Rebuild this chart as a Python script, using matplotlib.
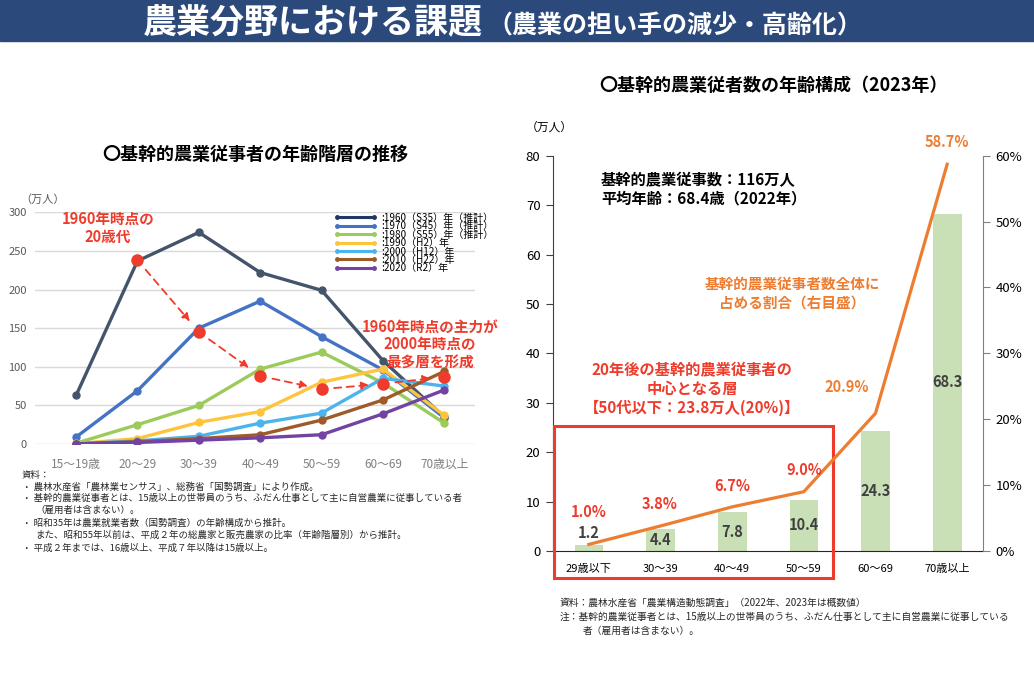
import matplotlib
matplotlib.use('Agg')
import matplotlib.pyplot as plt
from matplotlib.lines import Line2D
from matplotlib.patches import Rectangle

plt.rcParams['font.family'] = ['Noto Sans CJK JP', 'DejaVu Sans']

W, H = 1034, 675

# ---- left chart data (万人) ----
age_groups = ['15～19歳', '20～29', '30～39', '40～49', '50～59', '60～69', '70歳以上']
series_labels = [':1960（S35）年（推計）', ':1970（S45）年（推計）', ':1980（S55）年（推計）',
                 ':1990（H2）年', ':2000（H12）年', ':2010（H22）年', ':2020（R2）年']
y1960 = [63, 237, 274, 222, 199, 108, 35]
y1970 = [9, 69, 150, 185, 139, 96, 34]
y1980 = [1, 25, 50, 97, 119, 79, 27]
y1990 = [0.5, 7, 28, 42, 80, 97, 37]
y2000 = [0.3, 4, 10, 27, 40, 85, 75]
y2010 = [0.2, 3, 7, 12, 31, 57, 94]
y2020 = [0.1, 2, 5, 8, 12, 39, 70]
cohort_1960 = [238, 145, 88, 71, 78, 87]   # 1960年に20歳代だった層 (20～29 以降)

# ---- right chart data (2023年) ----
age_groups_2023 = ['29歳以下', '30～39', '40～49', '50～59', '60～69', '70歳以上']
workers_2023 = [1.2, 4.4, 7.8, 10.4, 24.3, 68.3]
share_2023 = [1.0, 3.8, 6.7, 9.0, 20.9, 58.7]

line_colors = ['#44546A', '#4472C4', '#9BCB5A', '#FFC43D', '#4DB3EC', '#9E5B28', '#7343A3']
RED = '#EE3B2B'
ORANGE = '#ED7D31'


def fx(px):
    return px / W


def fy(py):
    return 1 - py / H


fig = plt.figure(figsize=(W / 100, H / 100), dpi=100)

# ---- banner ----
fig.patches.append(Rectangle((0, fy(41)), 1, 41 / H, transform=fig.transFigure,
                             color='#2B4A7B', zorder=0))
t_main = fig.text(fx(143), fy(33), '農業分野における課題', color='white', fontsize=24.5,
                  fontweight='bold', va='baseline', ha='left')
fig.canvas.draw()
bb = t_main.get_window_extent()
fig.text(bb.x1 / W + 0.004, fy(33), '（農業の担い手の減少・高齢化）', color='white', fontsize=18,
         fontweight='bold', va='baseline', ha='left')

# ---- left chart ----
ax = fig.add_axes([fx(35), fy(444), 440 / W, (444 - 212.3) / H])
xs = list(range(len(age_groups)))
all_series = [y1960, y1970, y1980, y1990, y2000, y2010, y2020]
for vals, c in zip(all_series, line_colors):
    ax.plot(xs, vals, color=c, lw=2.4, marker='o', ms=5, zorder=3)

cx = xs[1:]
ax.plot(cx, cohort_1960, 'o', color=RED, ms=9, zorder=5, markeredgewidth=0)
for i in range(len(cx) - 1):
    ax.annotate('', xy=(cx[i + 1], cohort_1960[i + 1]), xytext=(cx[i], cohort_1960[i]),
                arrowprops=dict(arrowstyle='-|>', color=RED, lw=1.3, linestyle=(0, (4, 3)),
                                shrinkA=9, shrinkB=10, mutation_scale=11), zorder=4)

ax.set_xlim(-0.67, 6.5)
ax.set_ylim(0, 300)
ax.set_yticks(range(0, 301, 50))
ax.set_xticks(xs)
ax.set_xticklabels(age_groups, color='#808080', fontsize=8.5)
ax.tick_params(axis='both', length=0)
ax.tick_params(axis='x', pad=10)
ax.tick_params(axis='y', pad=6, labelcolor='#595959', labelsize=8)
ax.grid(axis='y', color='#D9D9D9', lw=1)
ax.set_axisbelow(True)
for s in ax.spines.values():
    s.set_visible(False)

handles = [Line2D([0], [0], color=c, lw=2.2, marker='o', ms=2.5) for c in line_colors]
handles[0].set_color('#1F3864')
ax.legend(handles, series_labels, loc='upper left', bbox_to_anchor=((334 - 35) / 440, 0.997),
          frameon=False, fontsize=7.2, labelspacing=-0.16, handlelength=4.3, handletextpad=0.4,
          borderpad=0, borderaxespad=0, numpoints=2)

fig.text(fx(20), fy(200), '（万人）', fontsize=8, color='#595959', va='center')
fig.text(fx(255), fy(154), '〇基幹的農業従事者の年齢階層の推移', fontsize=13, fontweight='bold',
         ha='center', va='center')
fig.text(fx(108), fy(228), '1960年時点の\n20歳代', fontsize=10.5, fontweight='bold', color=RED,
         ha='center', va='center', linespacing=1.15)
fig.text(fx(430), fy(344), '1960年時点の主力が\n2000年時点の\n最多層を形成', fontsize=10.5,
         fontweight='bold', color=RED, ha='center', va='center', linespacing=1.1)

notes_left = [
    (22, 475, '資料：'),
    (22, 487, '・ 農林水産省「農林業センサス」、総務省「国勢調査」により作成。'),
    (22, 498, '・ 基幹的農業従事者とは、15歳以上の世帯員のうち、ふだん仕事として主に自営農業に従事している者'),
    (35, 510, '（雇用者は含まない）。'),
    (22, 523, '・ 昭和35年は農業就業者数（国勢調査）の年齢構成から推計。'),
    (35, 535, 'また、昭和55年以前は、平成２年の総農家と販売農家の比率（年齢階層別）から推計。'),
    (22, 548, '・ 平成２年までは、16歳以上、平成７年以降は15歳以上。'),
]
for px, py, s in notes_left:
    fig.text(fx(px), fy(py), s, fontsize=6.8, va='center', color='#262626')

# ---- right chart ----
ax2 = fig.add_axes([fx(553), fy(551), 430 / W, (551 - 155.7) / H])
xr = list(range(len(age_groups_2023)))
ax2.bar(xr, workers_2023, width=0.4, color='#C9DFB5', zorder=2)
for x, v in zip(xr, workers_2023):
    ypos = v + 2.5 if v < 3 else v / 2
    ax2.text(x, ypos, f'{v:.1f}', ha='center', va='center', fontsize=10.5,
             fontweight='bold', color='#404040', zorder=4)
ax2.set_xlim(-0.5, 5.5)
ax2.set_ylim(0, 80)
ax2.set_yticks(range(0, 81, 10))
ax2.set_xticks(xr)
ax2.set_xticklabels(age_groups_2023, fontsize=8)
ax2.tick_params(axis='x', length=0, pad=9)
ax2.tick_params(axis='y', direction='out', length=5, labelsize=9.5, color='#404040', pad=4)
ax2.spines['top'].set_visible(False)
ax2.spines['right'].set_visible(False)
ax2.spines['left'].set_color('#404040')
ax2.spines['bottom'].set_color('#262626')

axr = ax2.twinx()
axr.plot(xr, share_2023, color=ORANGE, lw=2.3, zorder=3)
axr.set_ylim(0, 60)
axr.set_yticks(range(0, 61, 10))
axr.set_yticklabels([f'{t}%' for t in range(0, 61, 10)])
axr.tick_params(axis='y', direction='out', length=5, labelsize=9.5, color='#808080', pad=4)
for k in ['top', 'left', 'bottom']:
    axr.spines[k].set_visible(False)
axr.spines['right'].set_color('#808080')

share_offsets = [(0, 23), (-1, 16), (0, 15), (0, 15.5), (-21, 19), (0, 16)]
for i, (x, v) in enumerate(zip(xr, share_2023)):
    col = RED if i < 4 else ORANGE
    axr.annotate(f'{v:.1f}%', (x, v), xytext=share_offsets[i], textcoords='offset points',
                 ha='center', va='center', fontsize=10.5, fontweight='bold', color=col)

# red frame around 50代以下
ax2.add_patch(Rectangle((-0.49, -5.4), 3.9, 30.7, fill=False, edgecolor=RED, lw=2.2,
                        clip_on=False, zorder=5))

fig.text(fx(526), fy(127), '（万人）', fontsize=8.5, va='center')
fig.text(fx(773), fy(85), '〇基幹的農業従者数の年齢構成（2023年）', fontsize=13, fontweight='bold',
         ha='center', va='center')
fig.text(fx(601), fy(189), '基幹的農業従事数：116万人\n平均年齢：68.4歳（2022年）', fontsize=11,
         fontweight='bold', va='center', ha='left', linespacing=1.2)
fig.text(fx(792), fy(293), '基幹的農業従事者数全体に\n占める割合（右目盛）', fontsize=10.5,
         fontweight='bold', color=ORANGE, ha='center', va='center', linespacing=1.25)
fig.text(fx(692), fy(389), '20年後の基幹的農業従事者の\n中心となる層\n【50代以下：23.8万人(20%)】',
         fontsize=11, fontweight='bold', color=RED, ha='center', va='center', linespacing=1.2)

fig.text(fx(560), fy(603), '資料：農林水産省「農業構造動態調査」（2022年、2023年は概数値）',
         fontsize=7, va='center', color='#262626')
fig.text(fx(560), fy(617), '注：基幹的農業従事者とは、15歳以上の世帯員のうち、ふだん仕事として主に自営農業に従事している',
         fontsize=7, va='center', color='#262626')
fig.text(fx(583), fy(631), '者（雇用者は含まない）。', fontsize=7, va='center', color='#262626')

fig.savefig('out.png', dpi=100)
